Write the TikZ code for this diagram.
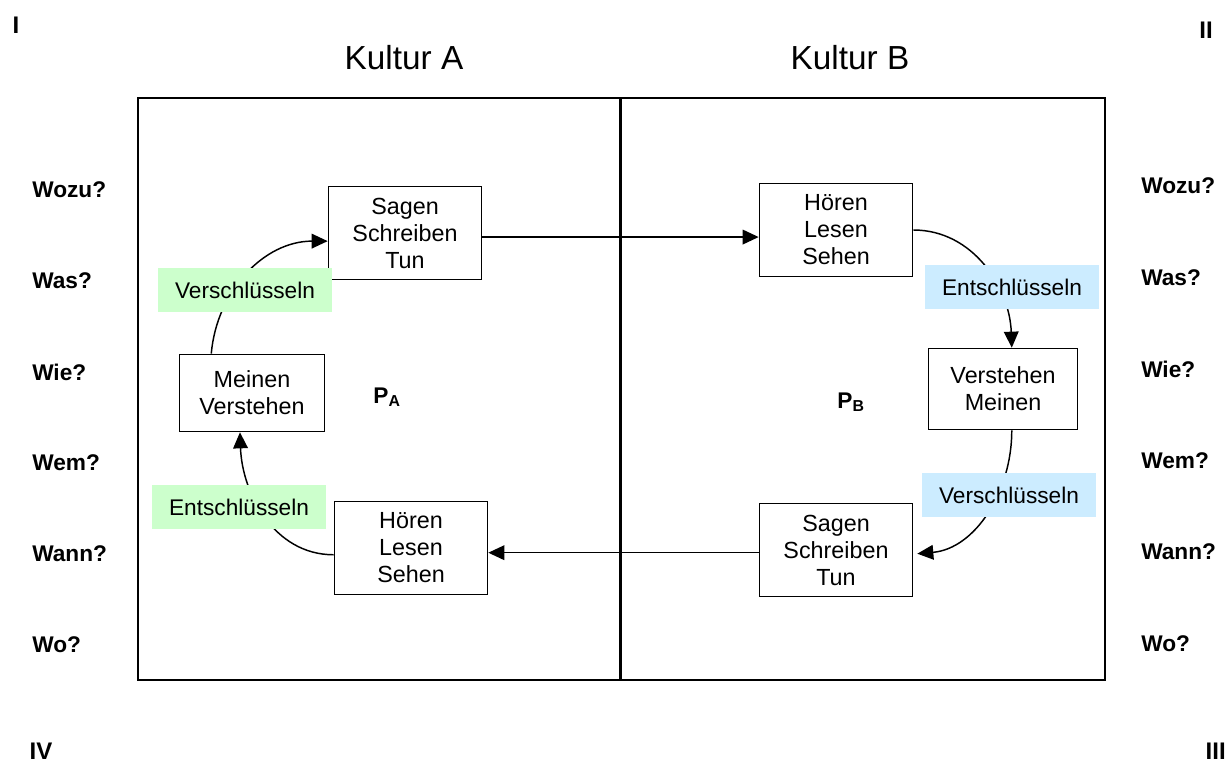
\documentclass[tikz,border=0pt]{standalone}
\usepackage{fontspec}
\setmainfont{Liberation Sans}
\usetikzlibrary{arrows.meta}
\definecolor{gruen}{RGB}{204,255,204}
\definecolor{blau}{RGB}{204,236,255}

\begin{document}
\begin{tikzpicture}[x=0.75pt,y=0.75pt,
  box/.style={draw, line width=1pt, align=center, minimum width=115pt, minimum height=70pt, inner sep=0pt, font=\fontsize{17.5}{20.25}\selectfont},
  etikett/.style={minimum width=131pt, minimum height=33pt, inner sep=0pt, font=\fontsize{17}{20}\selectfont},
  frage/.style={anchor=west, inner sep=0pt, font=\bfseries\fontsize{17}{20}\selectfont},
  pfeil/.style={line width=1.1pt, -{Triangle[length=12pt,width=11pt]}},
  ecke/.style={inner sep=0pt, font=\bfseries\fontsize{18}{20}\selectfont}]
\useasboundingbox (0,0) rectangle (1227,-763);

 % les deux cultures
  \draw[line width=1pt] (138,-98) rectangle (620,-680);
  \draw[line width=1pt] (621,-98) rectangle (1105,-680);
  \node[font=\fontsize{25}{30}\selectfont] (kulturA) at (404,-58) {Kultur A};
  \node[font=\fontsize{25}{30}\selectfont] (kulturB) at (850,-58) {Kultur B};

% les coins
  \node[ecke] (eckeI) at (16,-25) {I};
  \node[ecke] (eckeII) at (1206,-30) {II};
  \node[ecke, anchor=east] (eckeIII) at (1226,-751) {III};
  \node[ecke] (eckeIV) at (41,-751) {IV};

% les questions
  \foreach \q [count=\i] in {Wozu?,Was?,Wie?,Wem?,Wann?,Wo?} {
    \node[frage] (fragL\i) at (32,{-190-91*(\i-1)}) {\q};
    \node[frage] (fragR\i) at (1141,{-186-91.5*(\i-1)}) {\q};
  }

% les boîtes
  \node[box] (A1) at (405,-233) {Sagen\\Schreiben\\Tun};
  \node[box, minimum width=109pt, minimum height=58pt] (A2) at (252,-393) {Meinen\\Verstehen};
  \node[box] (A3) at (411,-548) {Hören\\Lesen\\Sehen};
  \node[box] (B1) at (836,-230) {Hören\\Lesen\\Sehen};
  \node[box, minimum width=112pt, minimum height=61pt] (B2) at (1003,-389) {Verstehen\\Meinen};
  \node[box] (B3) at (836,-550) {Sagen\\Schreiben\\Tun};

  \node[font=\bfseries\fontsize{17}{20}\selectfont] (PA) at (387,-397) {P\textsubscript{A}};
  \node[font=\bfseries\fontsize{17}{20}\selectfont] (PB) at (851,-402) {P\textsubscript{B}};

% les flèches
  \draw[pfeil] (A1.-3) -- (A1.-3 -| B1.west);
  \draw[pfeil] (B3.182) -- (B3.182 -| A3.east);
  \draw[pfeil] (A2.136) to[out=85,in=180] (A1.186);
  \draw[pfeil] (A3.185) to[out=180,in=-88] (A2.253);
  \draw[pfeil] (B1.east) to[out=0,in=92] (B2.78);
  \draw[pfeil, shorten >=3pt] (B2.282) to[out=-90,in=5] (B3.357);

  \node[etikett, fill=gruen] (verA) at (245,-290) {Verschlüsseln};
  \node[etikett, fill=gruen] (entA) at (239,-507) {Entschlüsseln};
  \node[etikett, fill=blau] (entB) at (1012,-287) {Entschlüsseln};
  \node[etikett, fill=blau] (verB) at (1009,-495) {Verschlüsseln};
\end{tikzpicture}
\end{document}
